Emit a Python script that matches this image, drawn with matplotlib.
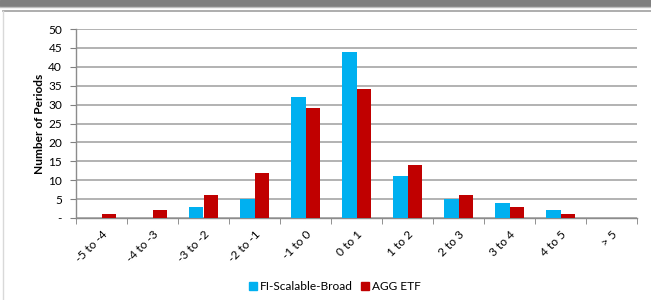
import numpy as np
import matplotlib
matplotlib.use("Agg")
import matplotlib.pyplot as plt
from matplotlib.patches import Rectangle
from matplotlib.lines import Line2D

plt.rcParams['font.family'] = ['Lato', 'DejaVu Sans']

# Data
categories = ['-5 to -4', '-4 to -3', '-3 to -2', '-2 to -1', '-1 to 0', '0 to 1',
              '1 to 2', '2 to 3', '3 to 4', '4 to 5', '> 5']
fi_broad = [0, 0, 3, 5, 32, 44, 11, 5, 4, 2, 0]
agg_etf = [1, 2, 6, 12, 29, 34, 14, 6, 3, 1, 0]
y_ticks = [0, 5, 10, 15, 20, 25, 30, 35, 40, 45, 50]
y_labels = ['-', '5', '10', '15', '20', '25', '30', '35', '40', '45', '50']

blue = '#00B0F0'
red = '#C00000'
grid_c = '#A6A6A6'
fs = 8.6

fig = plt.figure(figsize=(6.51, 3.0), dpi=100)
ax = fig.add_axes([76/651, 1-218/300, (637-76)/651, (218-29)/300])

x = np.arange(len(categories))
w = 0.29
ax.bar(x - w/2, fi_broad, w, color=blue, label='FI-Scalable-Broad', zorder=3)
ax.bar(x + w/2, agg_etf, w, color=red, label='AGG ETF', zorder=3)

ax.set_xlim(-0.5, len(categories) - 0.5)
ax.set_ylim(0, 50)
ax.set_yticks(y_ticks)
ax.set_yticklabels(y_labels, fontsize=fs)
ax.yaxis.grid(True, color=grid_c, linewidth=1.2, zorder=0)

ax.set_xticks(x)
ax.set_xticklabels(categories, rotation=45, ha='right', rotation_mode='anchor', fontsize=fs)
ax.tick_params(axis='x', length=0, pad=8)
ax.set_xticks(np.arange(-0.5, len(categories)), minor=True)
ax.tick_params(axis='x', which='minor', length=4, color='#808080', direction='out')
ax.tick_params(axis='y', length=4, color='#808080', pad=6)

for s in ['top', 'right']:
    ax.spines[s].set_visible(False)
for s in ['left', 'bottom']:
    ax.spines[s].set_color('#8C8C8C')
    ax.spines[s].set_linewidth(1.0)

ax.set_ylabel('Number of Periods', fontsize=fs, fontweight='bold', labelpad=2)

fig.legend(handles=[Line2D([], [], marker='s', ls='', color=blue, markersize=6, label='FI-Scalable-Broad'),
                    Line2D([], [], marker='s', ls='', color=red, markersize=6, label='AGG ETF')],
           loc='center', bbox_to_anchor=(334/651, 1-287/300), ncol=2, frameon=False,
           fontsize=fs, handletextpad=0.1, columnspacing=0.5, handlelength=1.0)

# decorative frame
fig.add_artist(Rectangle((0, 1-6/300), 1, 6/300, transform=fig.transFigure, color='#7F7F7F'))
fig.add_artist(Line2D([0, 1], [1-7/300, 1-7/300], transform=fig.transFigure, color='#BFBFBF', lw=1))
fig.add_artist(Line2D([3/651, 1], [1-10.5/300, 1-10.5/300], transform=fig.transFigure, color='#A0A0A0', lw=1.2))
fig.add_artist(Line2D([3/651, 3/651], [0, 1-10.5/300], transform=fig.transFigure, color='#D9D9D9', lw=1))

fig.savefig('out.png', dpi=100)
